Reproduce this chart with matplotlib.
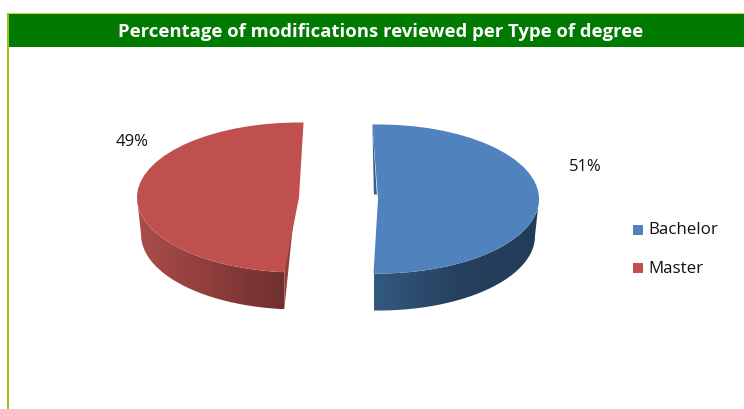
import numpy as np
import matplotlib
matplotlib.use("Agg")
import matplotlib.pyplot as plt
from matplotlib.colors import LinearSegmentedColormap
from matplotlib.patches import Polygon, Rectangle

# ---- data ----
categories = ["Bachelor", "Master"]
shares = [51, 49]
title = "Percentage of modifications reviewed per Type of degree"

# ---- style ----
W, H = 744, 410
top_colors = ["#5082BE", "#C0504D"]
side_ramps = [["#33597F", "#26415F", "#223B58"], ["#AB4D4A", "#8E3E3C", "#703030"]]
cut_colors = ["#3A5F8A", "#93403D"]
YS = 75 / 162          # vertical squash of the pie
DEPTH = 37 / YS        # thickness of the pie
SHRINK = 0.975         # perspective narrowing of the lower rim
TEXT_FONT = "Open Sans"

fig = plt.figure(figsize=(W / 100, H / 100), dpi=100, facecolor="white")
ax = fig.add_axes([0, 0, 1, 1])


def py(y):
    return (H - y) / YS


slices = [
    dict(center=(378, py(200)), radius=161, start=92, idx=0),
    dict(center=(299, py(198.5)), radius=162, start=88.4, idx=1),
]

for s in slices:
    i = s["idx"]
    wedges, _ = ax.pie(shares, startangle=s["start"], counterclock=False,
                       center=s["center"], radius=s["radius"],
                       colors=top_colors, frame=False)
    for j, w in enumerate(wedges):
        if j != i:
            w.remove()
    w = wedges[i]
    w.set_zorder(5)
    w.set_edgecolor("none")
    s["t1"], s["t2"] = w.theta1, w.theta2

ax.set_aspect("auto")

for s in slices:
    i = s["idx"]
    cx, cy = s["center"]
    R = s["radius"]
    t1, t2 = s["t1"], s["t2"]
    # visible (lower) part of the rim
    a = []
    for lo, hi in [(t1, t2), (t1 + 360, t2 + 360), (t1 - 360, t2 - 360)]:
        l, h = max(lo, 180), min(hi, 360)
        if h > l:
            a = np.linspace(l, h, 120)
    upper = np.c_[cx + R * np.cos(np.radians(a)), cy + R * np.sin(np.radians(a))]
    lower = np.c_[cx + SHRINK * R * np.cos(np.radians(a)),
                  cy + R * np.sin(np.radians(a)) - DEPTH]
    if i == 0:   # keep the inner edge of the blue slice vertical
        lower[0, 0] = upper[0, 0]
    else:
        lower[-1, 0] = upper[-1, 0]
    poly = Polygon(np.r_[upper, lower[::-1]], closed=True, transform=ax.transData,
                   facecolor="none", edgecolor="none")
    ax.add_patch(poly)
    cmap = LinearSegmentedColormap.from_list("r", side_ramps[i])
    x0, x1 = np.r_[upper, lower][:, 0].min(), np.r_[upper, lower][:, 0].max()
    y0, y1 = np.r_[upper, lower][:, 1].min(), np.r_[upper, lower][:, 1].max()
    im = ax.imshow(np.linspace(0, 1, 256)[None, :], cmap=cmap, aspect="auto",
                   extent=(x0, x1, y0, y1), zorder=2, interpolation="bilinear")
    im.set_clip_path(poly)

    # cut face
    if i == 1:
        T = (cx + R * np.cos(np.radians(t1 if t1 < 100 else t2)),
             cy + R * np.sin(np.radians(t1 if t1 < 100 else t2)))
        bt = t2 if t1 < 100 else t1
        B = (cx + R * np.cos(np.radians(bt)), cy + R * np.sin(np.radians(bt)))
        ax.add_patch(Polygon([T, B, (B[0], B[1] - DEPTH)], closed=True,
                             facecolor=cut_colors[i], edgecolor="none", zorder=3))
    else:
        T = (cx + R * np.cos(np.radians(t2)), cy + R * np.sin(np.radians(t2)))
        ax.add_patch(Polygon([T, (T[0] + 1.5, T[1] - 70 / YS), (T[0] + 4.5, T[1] - 70 / YS)],
                             closed=True, facecolor=cut_colors[i], edgecolor="none", zorder=3))

ax.set_xlim(0, W)
ax.set_ylim(0, H / YS)
ax.axis("off")


def rect(x, y, w, h, c, z=6):
    ax.add_patch(Rectangle((x, py(y + h)), w, h / YS, facecolor=c, edgecolor="none", zorder=z))


# header band and frame
rect(7, 13.5, 737, 1.8, "#C6D92F")
rect(8, 15, 736, 33, "#007A00")
rect(7, 13.5, 1.5, 396.5, "#9CC41E")

ax.text(381, py(32), title, color="white", fontsize=13.3, fontweight="bold",
        family=TEXT_FONT, ha="center", va="center", zorder=7)

# value labels
label_pos = [(132, 142), (585.5, 167)]
for v, (x, y) in zip(shares[::-1], label_pos):
    ax.text(x, py(y), f"{v}%", fontsize=12, family=TEXT_FONT, color="#111111",
            ha="center", va="center", zorder=7)

# legend
legend_y = [230.5, 269]
for c, name, y in zip(top_colors, categories, legend_y):
    rect(632.5, y - 5, 10, 10, c)
    ax.text(648.5, py(y), name, fontsize=12.2, family=TEXT_FONT, color="#111111",
            ha="left", va="center", zorder=7)

fig.savefig("out.png", dpi=100, facecolor="white")
